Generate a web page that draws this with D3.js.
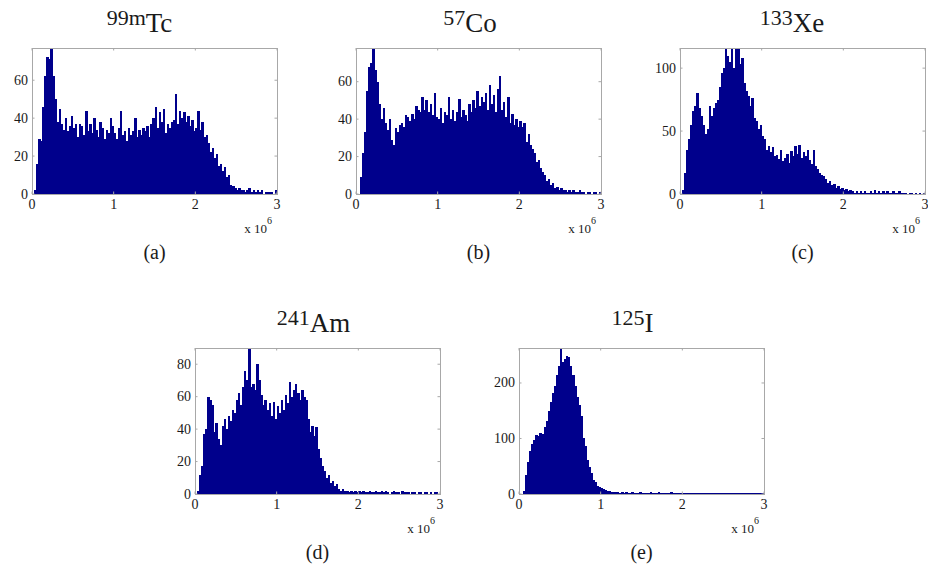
<!DOCTYPE html>
<html lang="en-US">
<head>
    <meta charset="utf-8">
    <script src="https://d3js.org/d3.v7.min.js"></script>
    <style>
        body { margin: 0; background: #fff; }
        text { font-family: "Liberation Serif", "Times New Roman", serif; fill: #1a1a1a; }
        .bar { fill: #00008c; stroke: none; shape-rendering: crispEdges; }
        .frame { fill: none; stroke: #a8a8a8; stroke-width: 1; }
        .tick-mark { stroke: #a8a8a8; stroke-width: 1; }
    </style>
</head>
<body>
<div id="canvas"></div>
</body>
<script>
    // histogram bins: 120 bins of 25,000 from 0 to 3e6
    var binWidth = 25000;
    var xTicks = [0, 1, 2, 3];

    var tcCounts = [0, 2, 16, 29, 28, 46, 62, 72, 71, 77, 62, 50, 38, 45, 37, 34, 40, 33, 36, 41,
        35, 37, 30, 37, 36, 31, 44, 33, 37, 32, 40, 34, 30, 38, 35, 29, 34, 32, 40, 36,
        32, 29, 35, 44, 31, 33, 28, 35, 31, 33, 40, 30, 34, 31, 35, 33, 36, 30, 37, 40,
        46, 35, 43, 38, 45, 32, 37, 35, 38, 39, 53, 37, 44, 40, 43, 38, 41, 36, 39, 33,
        35, 44, 34, 38, 30, 31, 27, 22, 24, 19, 21, 15, 16, 12, 14, 9, 10, 5, 4, 3,
        2, 3, 2, 2, 1, 2, 3, 1, 2, 1, 2, 1, 2, 0, 1, 1, 1, 1, 0, 2];

    var coCounts = [0, 0, 9, 22, 33, 55, 68, 70, 78, 66, 60, 48, 40, 46, 38, 34, 40, 29, 26, 35,
        33, 37, 38, 36, 42, 41, 39, 43, 40, 47, 45, 44, 52, 45, 50, 44, 48, 42, 54, 41,
        40, 46, 38, 44, 42, 52, 40, 45, 39, 44, 51, 41, 45, 42, 39, 48, 44, 50, 46, 55,
        47, 52, 49, 54, 45, 58, 48, 53, 44, 56, 63, 45, 49, 41, 52, 38, 43, 37, 40, 36,
        39, 36, 38, 28, 32, 26, 24, 22, 17, 18, 14, 12, 10, 7, 8, 5, 6, 3, 4, 2,
        3, 2, 2, 1, 2, 1, 2, 1, 1, 2, 1, 1, 0, 1, 1, 0, 1, 1, 0, 1];

    var xeCounts = [0, 3, 17, 35, 44, 55, 66, 70, 80, 68, 62, 55, 48, 52, 70, 62, 68, 72, 75, 85,
        96, 100, 116, 110, 105, 116, 100, 115, 116, 103, 108, 88, 82, 78, 70, 76, 60, 58, 52, 55,
        46, 44, 35, 38, 33, 37, 30, 31, 28, 35, 26, 29, 32, 25, 34, 30, 38, 32, 39, 29,
        33, 30, 35, 27, 24, 35, 22, 20, 17, 15, 14, 12, 9, 10, 7, 8, 5, 6, 4, 5,
        3, 4, 2, 3, 2, 1, 2, 1, 2, 1, 2, 1, 1, 2, 1, 3, 1, 2, 1, 2,
        1, 2, 1, 1, 2, 1, 1, 2, 1, 1, 1, 0, 1, 1, 0, 1, 0, 1, 0, 1];

    var amCounts = [0, 2, 12, 17, 37, 40, 60, 58, 55, 38, 44, 34, 30, 42, 46, 40, 48, 45, 52, 50,
        58, 62, 55, 66, 76, 70, 90, 66, 68, 64, 80, 70, 61, 55, 58, 52, 56, 48, 57, 46,
        54, 50, 58, 52, 61, 56, 69, 60, 64, 68, 62, 58, 64, 60, 58, 46, 38, 42, 36, 41,
        28, 22, 17, 14, 10, 12, 7, 8, 5, 6, 3, 2, 3, 2, 2, 1, 2, 1, 2, 1,
        2, 1, 2, 1, 1, 2, 1, 1, 2, 1, 1, 2, 1, 2, 1, 0, 1, 2, 1, 1,
        0, 2, 1, 1, 1, 0, 1, 1, 0, 1, 1, 0, 1, 1, 0, 1, 0, 1, 1, 0];

    var iCounts = [0, 0, 6, 35, 58, 78, 90, 98, 106, 104, 110, 108, 120, 132, 150, 165, 182, 195, 215, 230,
        262, 238, 244, 248, 246, 230, 215, 195, 175, 160, 140, 100, 86, 62, 48, 38, 26, 22, 14, 12,
        10, 9, 7, 6, 5, 4, 3, 4, 3, 2, 3, 2, 3, 2, 2, 3, 2, 1, 2, 3,
        2, 2, 1, 2, 3, 1, 2, 2, 3, 1, 2, 2, 1, 2, 3, 1, 2, 1, 2, 2,
        1, 2, 1, 2, 1, 2, 1, 1, 2, 1, 2, 1, 1, 2, 1, 1, 2, 1, 1, 2,
        1, 1, 2, 1, 1, 2, 1, 1, 1, 2, 1, 1, 1, 2, 1, 1, 1, 1, 1, 1];

    var titleSups = ["99m", "57", "133", "241", "125"];
    var titleNames = ["Tc", "Co", "Xe", "Am", "I"];
    var panelLabels = ["(a)", "(b)", "(c)", "(d)", "(e)"];
    var yMaxes = [77, 78, 116, 90, 263];
    var yTickSets = [[0, 20, 40, 60], [0, 20, 40, 60], [0, 50, 100], [0, 20, 40, 60, 80], [0, 100, 200]];
    var countSets = [tcCounts, coCounts, xeCounts, amCounts, iCounts];

    // page layout of each axes box
    var layout = [
        { left: 32, top: 48, titleX: 139.5 },
        { left: 356, top: 48, titleX: 470 },
        { left: 680, top: 48, titleX: 792 },
        { left: 195, top: 348, titleX: 313.5 },
        { left: 519, top: 348, titleX: 632.5 }
    ];
    var width = 245;
    var height = 146;

    var svg = d3.select("#canvas")
        .append("svg")
        .attr("width", 928)
        .attr("height", 576);

    countSets.forEach(function (counts, p) {
        var L = layout[p];
        var bins = counts.map(function (c, i) {
            return { x0: i * binWidth, x1: (i + 1) * binWidth, n: c };
        });

        var x = d3.scaleLinear().domain([0, 3e6]).range([0, width]);
        var y = d3.scaleLinear().domain([0, yMaxes[p]]).range([height, 0]);

        var g = svg.append("g")
            .attr("transform", "translate(" + L.left + "," + L.top + ")");

        g.selectAll(".bar")
            .data(bins)
            .enter()
            .append("rect")
            .attr("class", "bar")
            .attr("x", function (d) { return x(d.x0); })
            .attr("width", function (d) { return x(d.x1) - x(d.x0) + 0.4; })
            .attr("y", function (d) { return y(d.n); })
            .attr("height", function (d) { return height - y(d.n); });

        g.append("rect")
            .attr("class", "frame")
            .attr("x", 0.5)
            .attr("y", 0.5)
            .attr("width", width)
            .attr("height", height);

        // inward ticks on all four sides, matlab style
        var tl = 2.5;
        xTicks.forEach(function (t) {
            var px = x(t * 1e6);
            g.append("line").attr("class", "tick-mark")
                .attr("x1", px).attr("x2", px).attr("y1", 0).attr("y2", tl);
            g.append("line").attr("class", "tick-mark")
                .attr("x1", px).attr("x2", px).attr("y1", height).attr("y2", height - tl);
            g.append("text")
                .attr("x", px)
                .attr("y", height + 15)
                .attr("text-anchor", "middle")
                .style("font-size", "14px")
                .text(t);
        });

        yTickSets[p].forEach(function (t) {
            var py = y(t);
            g.append("line").attr("class", "tick-mark")
                .attr("x1", 0).attr("x2", tl).attr("y1", py).attr("y2", py);
            g.append("line").attr("class", "tick-mark")
                .attr("x1", width).attr("x2", width - tl).attr("y1", py).attr("y2", py);
            g.append("text")
                .attr("x", -4)
                .attr("y", py + 4.5)
                .attr("text-anchor", "end")
                .style("font-size", "14px")
                .text(t);
        });

        // exponent label
        var ex = g.append("text")
            .attr("x", width - 5)
            .attr("y", height + 39)
            .attr("text-anchor", "end")
            .style("font-size", "13px");
        ex.append("tspan").text("x 10");
        ex.append("tspan").attr("dy", -9).style("font-size", "10px").text("6");

        // isotope title
        var tt = svg.append("text")
            .attr("x", L.titleX)
            .attr("y", L.top - 16)
            .attr("text-anchor", "middle");
        tt.append("tspan").attr("dy", -7).style("font-size", "22px").text(titleSups[p]);
        tt.append("tspan").attr("dy", 7).style("font-size", "27px").text(titleNames[p]);

        // sub-figure label
        svg.append("text")
            .attr("x", L.left + width / 2)
            .attr("y", L.top + height + 65)
            .attr("text-anchor", "middle")
            .style("font-size", "20px")
            .text(panelLabels[p]);
    });
</script>
</html>
